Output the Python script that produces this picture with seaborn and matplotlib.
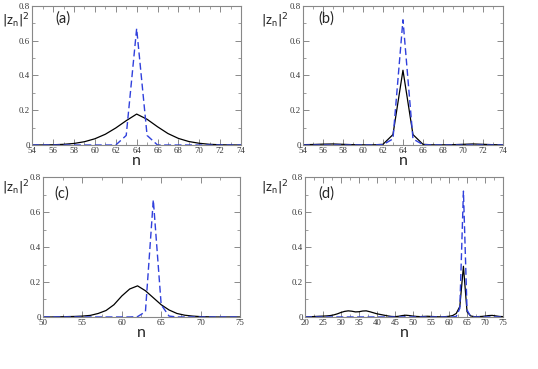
import numpy as np
import matplotlib
matplotlib.use("Agg")
import matplotlib.pyplot as plt
import seaborn as sns
from matplotlib.ticker import MultipleLocator

# panel data
n_ab = list(range(54, 75))
black_a = [0.000, 0.0005, 0.0015, 0.004, 0.009, 0.019, 0.036, 0.062, 0.098, 0.140, 0.178,
           0.148, 0.105, 0.066, 0.038, 0.020, 0.010, 0.004, 0.0015, 0.0005, 0.000]
blue_a = [0, 0, 0, 0, 0, 0, 0, 0, 0.0, 0.055, 0.67, 0.055, 0.0, 0, 0, 0, 0, 0, 0, 0, 0]

black_b = [0.002, 0.003, 0.005, 0.006, 0.004, 0.002, 0.001, 0.001, 0.004, 0.06, 0.43,
           0.06, 0.004, 0.001, 0.001, 0.002, 0.004, 0.006, 0.004, 0.002, 0.001]
blue_b = [0, 0, 0, 0, 0, 0, 0, 0, 0.002, 0.035, 0.72, 0.035, 0.002, 0, 0, 0, 0, 0, 0, 0, 0]

n_c = list(range(50, 76))
black_c = [0.0, 0.0, 0.001, 0.002, 0.003, 0.005, 0.009, 0.02, 0.037, 0.07, 0.12, 0.16, 0.178,
           0.15, 0.11, 0.07, 0.04, 0.02, 0.01, 0.005, 0.002, 0.001, 0.0, 0.0, 0.0, 0.0]
blue_c = [0, 0, 0, 0, 0, 0, 0, 0, 0, 0, 0, 0, 0.002, 0.03, 0.67, 0.07, 0.005,
          0, 0, 0, 0, 0, 0, 0, 0, 0]

n_d = list(range(20, 76))
black_d = [0.001, 0.001, 0.002, 0.003, 0.004, 0.005, 0.006, 0.008, 0.012, 0.018,
           0.026, 0.032, 0.035, 0.033, 0.029, 0.030, 0.034, 0.035, 0.030, 0.024,
           0.018, 0.014, 0.010, 0.006, 0.003, 0.002, 0.004, 0.008, 0.010, 0.008,
           0.005, 0.003, 0.002, 0.003, 0.004, 0.003, 0.002, 0.001, 0.001, 0.002,
           0.004, 0.008, 0.02, 0.06, 0.29, 0.03, 0.006, 0.002, 0.002, 0.003,
           0.005, 0.008, 0.009, 0.006, 0.003, 0.002]
blue_d = [0.0] * 42 + [0.003, 0.05, 0.72, 0.04, 0.003] + [0.0] * 9

panels = [
    ("(a)", n_ab, black_a, blue_a, (54, 74), 2, 1),
    ("(b)", n_ab, black_b, blue_b, (54, 74), 2, 1),
    ("(c)", n_c, black_c, blue_c, (50, 75), 5, 2.5),
    ("(d)", n_d, black_d, blue_d, (20, 75), 5, 2.5),
]

# axes positions in figure fraction (left, bottom, width, height)
boxes = [
    (0.060, 0.607, 0.388, 0.377),
    (0.563, 0.607, 0.372, 0.377),
    (0.080, 0.141, 0.366, 0.379),
    (0.567, 0.141, 0.368, 0.379),
]
ylab_pos = [(0.004, 0.945), (0.486, 0.945), (0.004, 0.49), (0.486, 0.49)]
tag_pos = [(0.11, 0.91), (0.075, 0.91), (0.06, 0.88), (0.065, 0.88)]

sns.set_style("ticks")
plt.rcParams["font.family"] = ["Lato", "DejaVu Sans"]

fig = plt.figure(figsize=(5.38, 3.69), dpi=100)

for (tag, n, blk, blu, xlim, major, minor), box, ylp, tp in zip(panels, boxes, ylab_pos, tag_pos):
    ax = fig.add_axes(box)
    sns.lineplot(x=n, y=blk, ax=ax, color="black", linewidth=0.9)
    sns.lineplot(x=n, y=blu, ax=ax, color="#3040dc", linewidth=1.0,
                 linestyle=(0, (5, 2.5)))
    ax.set_xlim(*xlim)
    ax.set_ylim(0, 0.8)
    ax.set_yticks([0, 0.2, 0.4, 0.6, 0.8], ["0", "0.2", "0.4", "0.6", "0.8"])
    ax.xaxis.set_major_locator(MultipleLocator(major))
    ax.xaxis.set_minor_locator(MultipleLocator(minor))
    ax.yaxis.set_minor_locator(MultipleLocator(0.1))
    ax.tick_params(which="both", direction="in", top=True, right=True,
                   colors="#777777", labelcolor="#333333")
    ax.tick_params(which="major", length=4, width=0.6, labelsize=6.3, pad=1.5)
    ax.tick_params(which="minor", length=2, width=0.5)
    for lab in ax.get_xticklabels() + ax.get_yticklabels():
        lab.set_family("Liberation Serif")
    for sp in ax.spines.values():
        sp.set_color("#888888")
        sp.set_linewidth(0.8)
    ax.set_xlabel("n", fontsize=11.5, labelpad=-1)
    ax.set_ylabel("")
    ax.text(tp[0], tp[1], tag, transform=ax.transAxes, fontsize=10.5, va="center")
    fig.text(ylp[0], ylp[1], r"$|$z$_\mathregular{n}$$|^2$", fontsize=9.5, va="center")

fig.savefig("out.png", dpi=100)
